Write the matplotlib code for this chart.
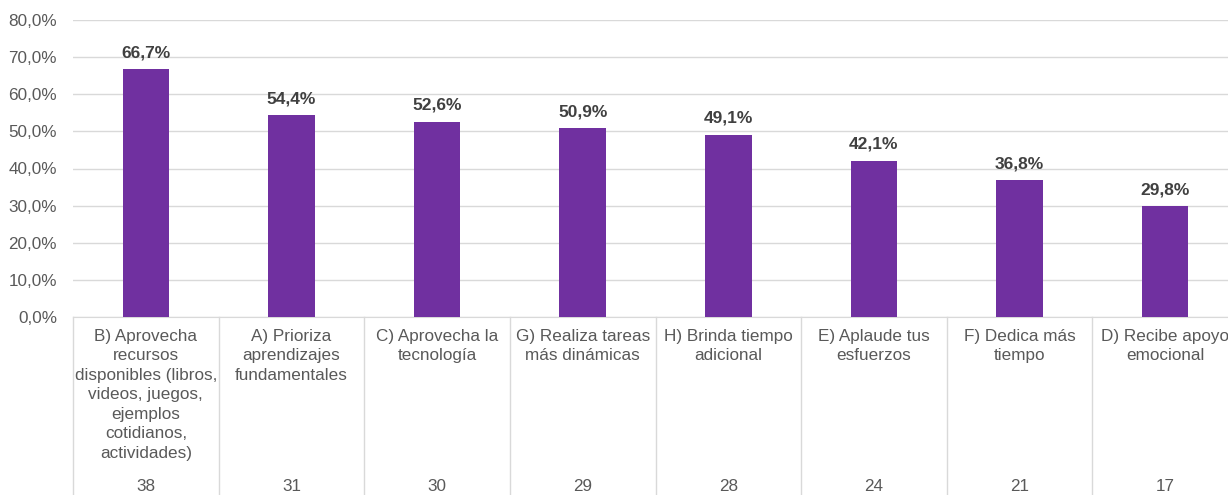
import matplotlib.pyplot as plt
from matplotlib.ticker import FuncFormatter

# Datos del gráfico
categorias = [
    "B) Aprovecha\nrecursos\ndisponibles (libros,\nvideos, juegos,\nejemplos\ncotidianos,\nactividades)",
    "A) Prioriza\naprendizajes\nfundamentales",
    "C) Aprovecha la\ntecnología",
    "G) Realiza tareas\nmás dinámicas",
    "H) Brinda tiempo\nadicional",
    "E) Aplaude tus\nesfuerzos",
    "F) Dedica más\ntiempo",
    "D) Recibe apoyo\nemocional",
]
porcentajes = [66.7, 54.4, 52.6, 50.9, 49.1, 42.1, 36.8, 29.8]
cantidades = [38, 31, 30, 29, 28, 24, 21, 17]

W, H = 1228, 495
plt.rcParams['font.family'] = ['Liberation Sans', 'DejaVu Sans']
gris = '#595959'

fig = plt.figure(figsize=(W / 100, H / 100), dpi=100)
# area del grafico en pixeles: x 73..1238, y 20..317
ax = fig.add_axes([73 / W, (H - 317) / H, (1238 - 73) / W, (317 - 20) / H])

x = range(len(porcentajes))
ax.bar(x, porcentajes, width=0.32, color='#7030A0', zorder=3)

for i, v in enumerate(porcentajes):
    ax.annotate(f"{v:.1f}%".replace('.', ','), xy=(i, v), xytext=(0, 9),
                textcoords='offset pixels', ha='center', va='bottom',
                fontsize=12.5, fontweight='bold', color='#404040')

ax.set_xlim(-0.5, len(porcentajes) - 0.5)
ax.set_ylim(0, 80)
ax.set_yticks(range(0, 81, 10))
ax.yaxis.set_major_formatter(FuncFormatter(lambda v, p: f"{v:.1f}%".replace('.', ',')))
ax.tick_params(axis='y', length=0, pad=11.5, labelsize=12.3, labelcolor=gris)
ax.set_xticks([])
ax.grid(axis='y', color='#d9d9d9', linewidth=1, zorder=0)
for s in ['top', 'right', 'left']:
    ax.spines[s].set_visible(False)
ax.spines['bottom'].set_color('#d9d9d9')

# tabla de categorias debajo del eje
tr = ax.get_xaxis_transform()
for b in range(len(porcentajes) + 1):
    ax.plot([b - 0.5, b - 0.5], [0, -1], transform=tr, color='#d9d9d9',
            linewidth=1, clip_on=False)

for i, (cat, n) in enumerate(zip(categorias, cantidades)):
    ax.annotate(cat, xy=(i, 0), xycoords=('data', 'axes fraction'),
                xytext=(0, -12), textcoords='offset pixels', ha='center', va='top',
                fontsize=12.3, color=gris, linespacing=1.37)
    ax.annotate(str(n), xy=(i, 0), xycoords=('data', 'axes fraction'),
                xytext=(0, -162), textcoords='offset pixels', ha='center', va='top',
                fontsize=12.3, color=gris)

fig.savefig('out.png', dpi=100)
